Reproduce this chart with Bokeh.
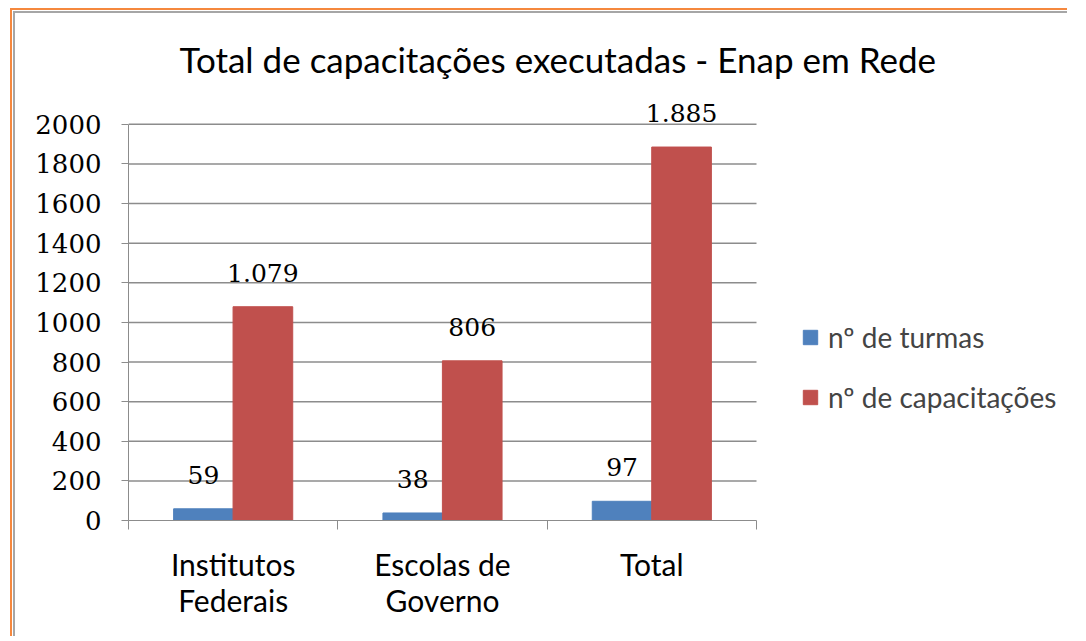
from bokeh.plotting import figure
from bokeh.models import Range1d, FixedTicker, Legend, LegendItem, ColumnDataSource
from bokeh.core.properties import value
from bokeh.embed import file_html
from bokeh.resources import INLINE
import numpy as np

# ---- data ----
categories = ["Institutos\nFederais", "Escolas de\nGoverno", "Total"]
turmas = [59, 38, 97]
capacitacoes = [1079, 806, 1885]
series_names = ["nº de turmas", "nº de capacitações"]
y_ticks = [0, 200, 400, 600, 800, 1000, 1200, 1400, 1600, 1800, 2000]
title_text = "Total de capacitações executadas - Enap em Rede"

BLUE = "#4F81BD"
RED = "#C0504D"
GRID = "#8C8C8C"

def fmt(v):
    return f"{v:,}".replace(",", ".")

# layout constants (pixels)
W, H = 1062, 634
LEFT, TOP, BOTTOM, RIGHT = 121, 94, 118, 4
CAT_AREA_PX = 628          # width of the three category slots
frame_w = W - LEFT - RIGHT
ncat = len(categories)
x_end = ncat * frame_w / CAT_AREA_PX

idx = np.arange(ncat) + 0.5
bw = 0.285
off = 0.142

src_t = ColumnDataSource(dict(x=idx - off, top=turmas, lab=[fmt(v) for v in turmas]))
src_c = ColumnDataSource(dict(x=idx + off, top=capacitacoes, lab=[fmt(v) for v in capacitacoes]))

p = figure(width=W, height=H, x_range=Range1d(0, x_end),
           y_range=Range1d(0, 2130), output_backend="svg", toolbar_location=None,
           min_border_left=LEFT, min_border_right=RIGHT, min_border_top=TOP,
           min_border_bottom=BOTTOM)

p.styles = {"border-top": "2px solid white", "border-left": "2px solid white",
            "margin-left": "5px", "margin-top": "2px", "background-color": "white",
            "box-shadow": ("inset 3px 4px 0 0 #ffffff, inset 5px 6px 0 0 #F5883E, "
                           "inset 6px 7px 0 0 #ffffff, inset 8px 9px 0 0 #A6A6A6")}
p.border_fill_color = None
p.background_fill_color = "white"
p.outline_line_color = None
p.xgrid.grid_line_color = None
p.ygrid.grid_line_color = None

# horizontal gridlines limited to the category area
p.segment(x0=0, x1=ncat, y0=y_ticks[1:], y1=y_ticks[1:], line_color=GRID, line_width=1.5)

r1 = p.vbar(x="x", top="top", width=bw, bottom=0, source=src_t, color=BLUE)
r2 = p.vbar(x="x", top="top", width=bw, bottom=0, source=src_c, color=RED)

for s in (src_t, src_c):
    p.text(x="x", y="top", text="lab", source=s, text_align="center",
           text_baseline="alphabetic", y_offset=-34, text_color="black",
           text_font=value("DejaVu Serif"), text_font_size="25px")

# title
p.title.text = title_text
p.title.align = "left"
p.title.offset = 51
p.title.text_font = "Lato"
p.title.text_font_size = "35px"
p.title.text_font_style = "normal"
p.title.text_color = "black"
p.title.standoff = 38

# y axis
p.yaxis.ticker = FixedTicker(ticks=y_ticks)
p.yaxis.bounds = (0, 2000)
p.yaxis.axis_line_color = GRID
p.yaxis.major_tick_line_color = GRID
p.yaxis.major_tick_out = 7
p.yaxis.major_tick_in = 0
p.yaxis.minor_tick_line_color = None
p.yaxis.major_label_text_font = "DejaVu Serif"
p.yaxis.major_label_text_font_size = "26px"
p.yaxis.major_label_text_color = "black"
p.yaxis.major_label_standoff = 20

# x axis: labels at category centres, tick marks at boundaries
p.xaxis.ticker = FixedTicker(ticks=list(idx), minor_ticks=list(range(ncat + 1)))
p.xaxis.bounds = (0, ncat)
p.xaxis.major_label_overrides = {float(x): c for x, c in zip(idx, categories)}
p.xaxis.axis_line_color = GRID
p.xaxis.major_tick_line_color = None
p.xaxis.major_tick_out = 0
p.xaxis.major_tick_in = 0
p.xaxis.minor_tick_line_color = GRID
p.xaxis.minor_tick_out = 9
p.xaxis.minor_tick_in = 0
p.xaxis.major_label_text_font = "Lato"
p.xaxis.major_label_text_font_size = "30px"
p.xaxis.major_label_text_line_height = 1.0
p.xaxis.major_label_text_color = "black"
p.xaxis.major_label_standoff = 16

legend = Legend(items=[LegendItem(label=series_names[0], renderers=[r1]),
                       LegendItem(label=series_names[1], renderers=[r2])],
                location=(673, 106), orientation="vertical",
                glyph_width=18, glyph_height=18, spacing=26,
                label_text_font="Lato", label_text_font_size="28px",
                label_standoff=9, padding=5, margin=0,
                background_fill_alpha=0, border_line_color=None)
p.add_layout(legend)

open("out.html", "w").write(file_html(p, INLINE))
